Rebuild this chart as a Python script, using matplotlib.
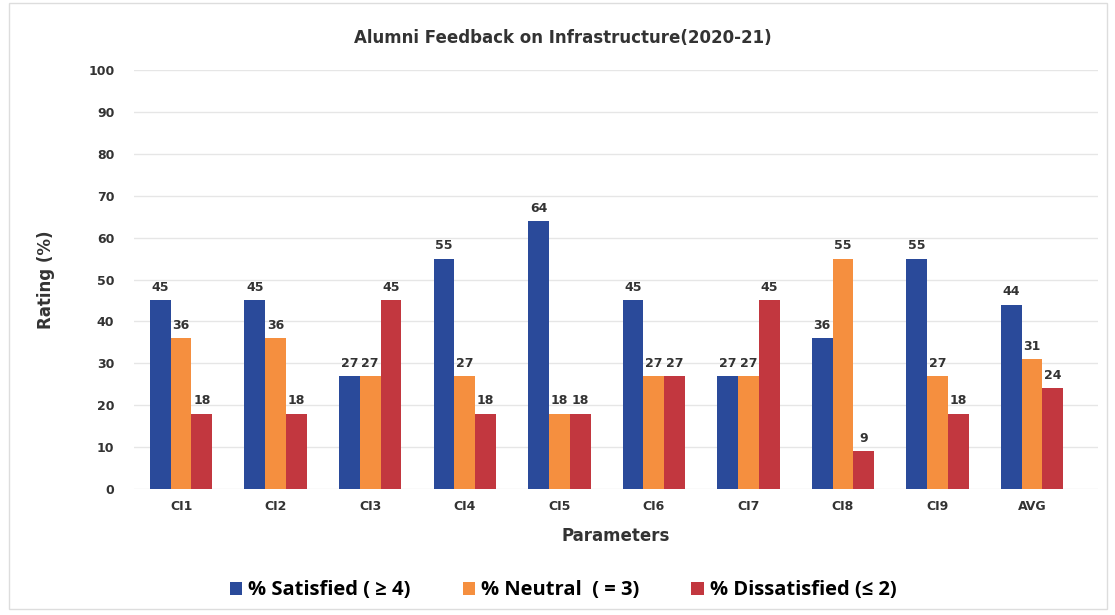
import matplotlib
matplotlib.use("Agg")
import matplotlib.pyplot as plt
import numpy as np
from matplotlib.patches import Rectangle

categories = ["CI1", "CI2", "CI3", "CI4", "CI5", "CI6", "CI7", "CI8", "CI9", "AVG"]
satisfied = [45, 45, 27, 55, 64, 45, 27, 36, 55, 44]
neutral = [36, 36, 27, 27, 18, 27, 27, 55, 27, 31]
dissatisfied = [18, 18, 45, 18, 18, 27, 45, 9, 18, 24]
series_names = ["% Satisfied ( \u2265 4)", "% Neutral  ( = 3)", "% Dissatisfied (\u2264 2)"]
colors = ["#2A4A9A", "#F58F3F", "#C2373F"]

fig = plt.figure(figsize=(11.15, 6.15), dpi=100)
ax = fig.add_axes([0.12, 0.205, 0.865, 0.681])

x = np.arange(len(categories))
w = 0.22
for i, (vals, name, c) in enumerate(zip([satisfied, neutral, dissatisfied], series_names, colors)):
    bars = ax.bar(x + (i - 1) * w, vals, w, color=c, label=name, zorder=3)
    for b, v in zip(bars, vals):
        ax.text(b.get_x() + b.get_width() / 2, v + 1.5, str(v), ha="center", va="bottom",
                fontsize=9, fontweight="bold", color="#333333", zorder=4)

ax.set_xlim(-0.5, len(categories) - 0.3)
ax.set_ylim(0, 100)
ax.set_yticks(range(0, 101, 10))
ax.set_xticks(x)
ax.set_xticklabels(categories)
ax.grid(axis="y", color="#e6e6e6", linewidth=1, zorder=0)
for s in ax.spines.values():
    s.set_visible(False)
ax.tick_params(length=0, labelsize=9, colors="#333333", pad=8)
for t in ax.get_xticklabels() + ax.get_yticklabels():
    t.set_fontweight("bold")
ax.tick_params(axis="y", pad=14)

ax.set_ylabel("Rating (%)", fontsize=12, fontweight="bold", color="#333333", labelpad=24)
ax.set_xlabel("Parameters", fontsize=12, fontweight="bold", color="#333333", labelpad=10)
fig.text(0.505, 0.938, "Alumni Feedback on Infrastructure(2020-21)", ha="center", va="center",
         fontsize=12, fontweight="bold", color="#333333")

fig.legend(loc="center", bbox_to_anchor=(0.505, 0.04), ncol=3, frameon=False,
           prop={"family": "Open Sans", "weight": "bold", "size": 14.5},
           handlelength=0.6, handleheight=0.6, handletextpad=0.3, columnspacing=2.6)

fig.patches.append(Rectangle((0.008, 0.01), 0.985, 0.985, transform=fig.transFigure,
                             fill=False, edgecolor="#dddddd", linewidth=1))

fig.savefig("out.png", dpi=100)
